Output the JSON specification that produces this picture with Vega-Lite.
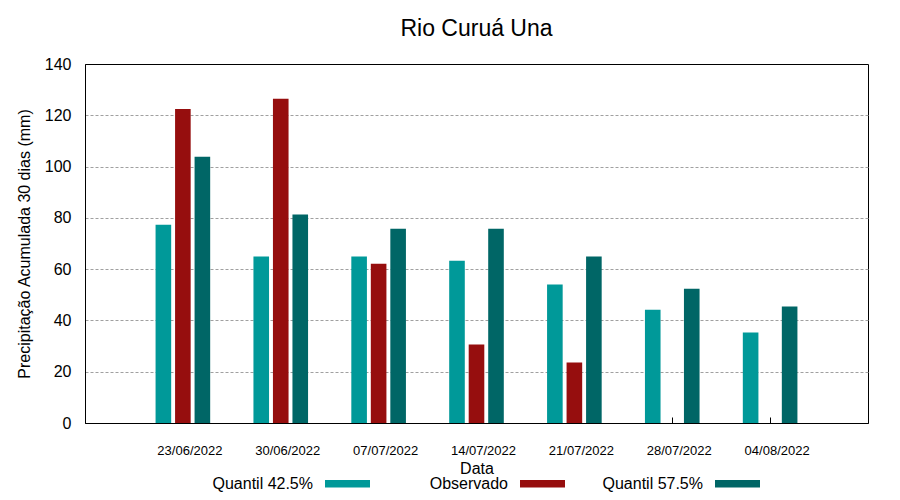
{
  "$schema": "https://vega.github.io/schema/vega-lite/v6.json",
  "width": 783,
  "height": 359,
  "autosize": {"type": "none"},
  "padding": {"left": 85, "top": 64, "right": 32, "bottom": 77},
  "background": "white",
  "title": {
    "text": "Rio Curuá Una",
    "font": "Liberation Sans",
    "fontSize": 23,
    "fontWeight": "normal",
    "color": "#000000",
    "anchor": "middle",
    "offset": 32,
    "dy": 35,
    "baseline": "alphabetic"
  },
  "data": {
    "values": [
      {"date": "23/06/2022", "serie": "Quantil 42.5%", "value": 77.3},
      {"date": "23/06/2022", "serie": "Observado", "value": 122.5},
      {"date": "23/06/2022", "serie": "Quantil 57.5%", "value": 103.8},
      {"date": "30/06/2022", "serie": "Quantil 42.5%", "value": 64.9},
      {"date": "30/06/2022", "serie": "Observado", "value": 126.4},
      {"date": "30/06/2022", "serie": "Quantil 57.5%", "value": 81.3},
      {"date": "07/07/2022", "serie": "Quantil 42.5%", "value": 64.9},
      {"date": "07/07/2022", "serie": "Observado", "value": 62.1},
      {"date": "07/07/2022", "serie": "Quantil 57.5%", "value": 75.8},
      {"date": "14/07/2022", "serie": "Quantil 42.5%", "value": 63.3},
      {"date": "14/07/2022", "serie": "Observado", "value": 30.6},
      {"date": "14/07/2022", "serie": "Quantil 57.5%", "value": 75.8},
      {"date": "21/07/2022", "serie": "Quantil 42.5%", "value": 54.0},
      {"date": "21/07/2022", "serie": "Observado", "value": 23.6},
      {"date": "21/07/2022", "serie": "Quantil 57.5%", "value": 64.9},
      {"date": "28/07/2022", "serie": "Quantil 42.5%", "value": 44.2},
      {"date": "28/07/2022", "serie": "Quantil 57.5%", "value": 52.4},
      {"date": "04/08/2022", "serie": "Quantil 42.5%", "value": 35.3},
      {"date": "04/08/2022", "serie": "Quantil 57.5%", "value": 45.4}
    ]
  },
  "mark": {"type": "bar"},
  "encoding": {
    "x": {
      "field": "date",
      "type": "nominal",
      "scale": {
        "domain": ["23/06/2022", "30/06/2022", "07/07/2022", "14/07/2022", "21/07/2022", "28/07/2022", "04/08/2022"],
        "paddingInner": 0.442,
        "paddingOuter": 0.721
      },
      "axis": {
        "title": "Data",
        "titleFont": "Liberation Sans",
        "titleFontSize": 16,
        "titleFontWeight": "normal",
        "titleColor": "#000000",
        "titlePadding": 3,
        "labelFont": "Liberation Sans",
        "labelFontSize": 13,
        "labelColor": "#000000",
        "labelAngle": 0,
        "labelOffset": 7,
        "labelPadding": 27,
        "tickSize": -6,
        "tickColor": "#000000",
        "domainColor": "#000000",
        "grid": false
      }
    },
    "xOffset": {
      "field": "serie",
      "type": "nominal",
      "scale": {"domain": ["Quantil 42.5%", "Observado", "Quantil 57.5%"], "paddingInner": 0.2, "paddingOuter": 0}
    },
    "y": {
      "field": "value",
      "type": "quantitative",
      "scale": {"domain": [0, 140], "nice": false},
      "axis": {
        "values": [0, 20, 40, 60, 80, 100, 120, 140],
        "title": "Precipitação Acumulada 30 dias (mm)",
        "titleFont": "Liberation Sans",
        "titleFontSize": 16,
        "titleFontWeight": "normal",
        "titleColor": "#000000",
        "titlePadding": 12,
        "labelFont": "Liberation Sans",
        "labelFontSize": 16,
        "labelColor": "#000000",
        "labelPadding": 14,
        "ticks": false,
        "domainColor": "#000000",
        "grid": true,
        "gridColor": "#a0a0a0",
        "gridDash": [3, 2],
        "gridWidth": 1,
        "gridOpacity": {"condition": {"test": "datum.value == 0 || datum.value == 140", "value": 0}, "value": 1}
      }
    },
    "color": {
      "field": "serie",
      "type": "nominal",
      "scale": {
        "domain": ["Quantil 42.5%", "Observado", "Quantil 57.5%"],
        "range": ["#009999", "#960e0e", "#006666"]
      },
      "legend": {
        "orient": "none",
        "legendX": 240,
        "legendY": 397,
        "direction": "horizontal",
        "columns": 3,
        "title": null,
        "symbolType": "M-1,-0.17H1V0.17H-1Z",
        "symbolSize": 2025,
        "symbolStrokeWidth": 0,
        "labelAlign": "right",
        "labelOffset": -57,
        "labelFont": "Liberation Sans",
        "labelFontSize": 16,
        "labelColor": "#000000",
        "labelLimit": 0,
        "gridAlign": "all",
        "columnPadding": 37,
        "padding": 0
      }
    }
  },
  "config": {
    "view": {"stroke": "#000000", "strokeWidth": 1}
  }
}
